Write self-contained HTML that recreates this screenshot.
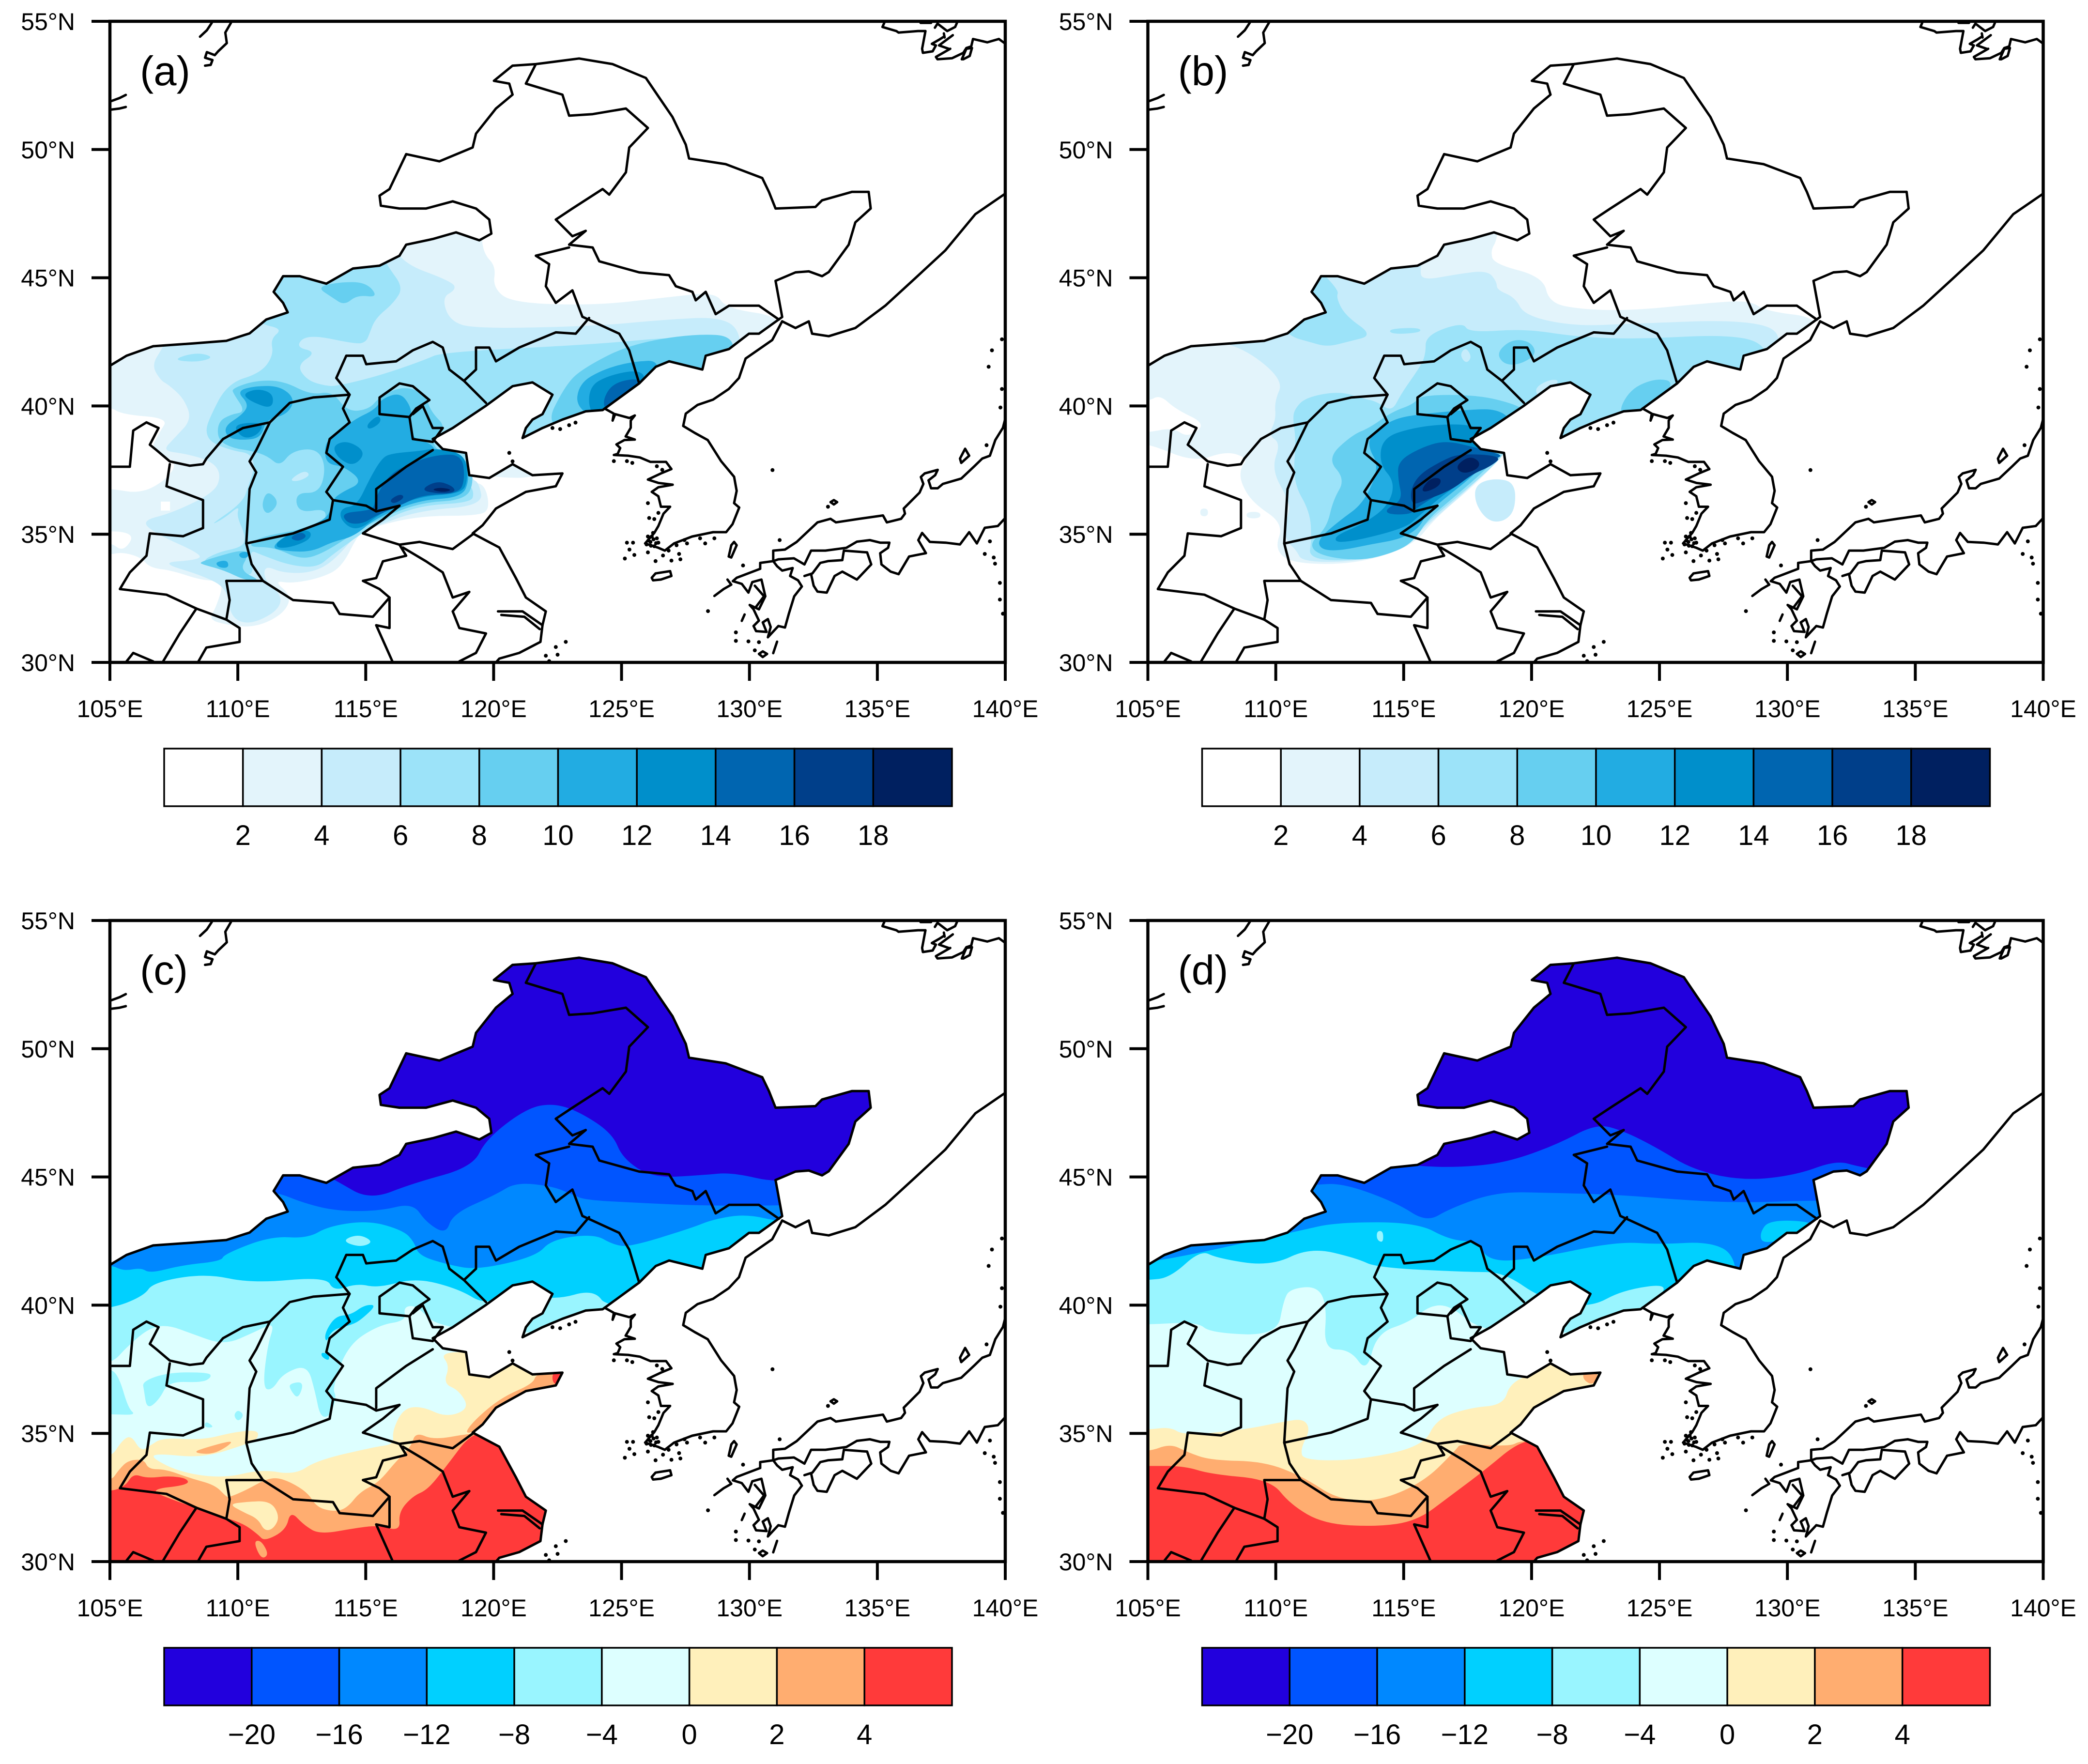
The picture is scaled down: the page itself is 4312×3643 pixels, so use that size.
<!DOCTYPE html>
<html lang="en">
<head>
<meta charset="utf-8">
<title>Four-panel contour maps of North China</title>
<style>
html,body{margin:0;padding:0;background:#fff;}
svg{display:block;font-family:"Liberation Sans",sans-serif;}
</style>
</head>
<body>
<svg id="figure" xmlns="http://www.w3.org/2000/svg" width="4312" height="3643" viewBox="0 0 4312 3643">
<rect x="0" y="0" width="4312" height="3643" fill="#ffffff"/>
</svg>
<script>
/* ---------- axis and legend data ---------- */
const lonTicks = [105,110,115,120,125,130,135,140];
const latTicks = [30,35,40,45,50,55];
const precipLevels = [2,4,6,8,10,12,14,16,18];
const precipColors = ['#ffffff','#e3f4fb','#c6ecfb','#9ce3f9','#66cff0','#22ace2','#008fcb','#0065b0','#003f8a','#002060'];
const tempLevels = [-20,-16,-12,-8,-4,0,2,4];
const tempColors = ['#2200dd','#0055ff','#0088ff','#00d0ff','#99f5ff','#ddffff','#fff0bb','#ffad70','#ff3a3a'];
const panelNames = ['a','b','c','d'];

/* ---------- geography, [lon, lat] ---------- */
const domainOutline = [[105,30],[105,41.57],[105.65,41.96],[106.69,42.33],[108.25,42.44],[109.55,42.54],[110.46,42.83],[111.11,43.37],[111.95,43.65],[111.77,44.02],[111.4,44.45],[111.77,45.06],[112.42,45.06],[113.46,44.77],[114.5,45.36],[115.54,45.47],[116.32,45.86],[116.58,46.29],[117.62,46.51],[118.53,46.77],[119.44,46.46],[119.91,46.72],[119.83,47.27],[119.31,47.7],[118.4,47.98],[117.36,47.7],[116.32,47.7],[115.59,47.81],[115.54,48.2],[115.93,48.46],[116.58,49.82],[117.88,49.54],[119.18,50.08],[119.31,50.62],[120.09,51.6],[120.74,52.14],[120.61,52.57],[120.01,52.68],[120.74,53.27],[121.65,53.33],[123.34,53.55],[124.65,53.33],[125.95,52.79],[126.47,52.03],[126.99,51.27],[127.51,50.19],[127.64,49.65],[129.07,49.43],[130.5,48.89],[130.76,48.35],[131.02,47.7],[132.58,47.76],[132.84,48.02],[134.01,48.35],[134.66,48.35],[134.74,47.7],[134.14,47.16],[133.88,46.29],[133.1,45.22],[132.84,45.06],[132.32,45.25],[131.8,45.21],[131.02,44.88],[131.28,43.47],[130.37,42.82],[129.98,42.82],[129.2,42.22],[128.29,41.96],[128.16,41.42],[126.86,41.74],[126.34,41.53],[125.69,40.88],[124.26,39.84],[123.6,39.79],[122.69,39.47],[121.91,39.14],[121.13,38.75],[121.26,39.14],[121.52,39.47],[121.91,39.68],[122.3,40.44],[121.52,40.92],[120.74,40.77],[119.7,40.01],[118.4,39.14],[117.62,38.71],[118.01,38.32],[118.92,38.17],[119.05,37.3],[119.83,37.19],[120.74,37.73],[121.52,37.3],[122.69,37.37],[122.43,36.87],[121.26,36.65],[120.48,36.22],[120.09,36],[119.57,35.35],[119.18,35.03],[120.22,34.48],[120.87,33.29],[121.26,32.53],[122.04,31.99],[121.91,31.45],[121.83,30.8],[121,30.37],[120.22,30.15],[120.09,30]];
const russiaCoast = [[131.28,43.3],[131.8,43.04],[132.32,43.3],[132.45,42.82],[133.1,42.72],[134.14,43.04],[135.31,43.91],[136.49,44.99],[137.66,46.07],[138.83,47.48],[140,48.28]];
const koreaCoast = [[124.34,39.9],[124.7,39.7],[124.65,39.43],[124.75,39.68],[125.31,39.53],[125.52,39.63],[125.36,39.43],[125.36,39.15],[125.16,38.81],[125.52,38.69],[125.11,38.67],[124.8,38.5],[124.95,38.36],[124.85,38.13],[124.7,38.09],[125.26,38.06],[125.72,37.99],[126.13,37.82],[126.74,37.82],[126.95,37.54],[126.54,37.37],[126.03,37.13],[126.44,37],[127,36.93],[126.44,36.83],[126.18,36.65],[126.44,36.48],[126.54,36.07],[126.9,36.07],[126.64,35.8],[126.44,35.32],[126.28,35.05],[125.92,34.64],[126.44,34.47],[126.69,34.36],[127.05,34.64],[127.76,34.91],[128.58,35.08],[129.09,35.08],[129.34,35.39],[129.6,36.04],[129.4,36.21],[129.5,36.69],[129.4,37.24],[128.89,37.85],[128.37,38.67],[127.86,38.95],[127.41,39.22],[127.51,39.7],[127.97,40.04],[128.58,40.25],[129.19,40.66],[129.59,41.09],[129.85,41.85],[130.89,42.57],[131.28,43.3]];
const honshuNorth = [[130.93,33.95],[130.93,34.36],[131.39,34.4],[131.85,34.7],[132.36,35.18],[132.66,35.46],[133.17,35.6],[133.38,35.46],[134.3,35.6],[135.22,35.73],[135.37,35.46],[135.93,35.6],[136.08,35.8],[136.03,36],[136.65,36.62],[136.8,36.96],[136.7,37.23],[136.85,37.37],[137.36,37.51],[137.26,37.3],[137,37.1],[137.1,36.79],[137.36,36.79],[137.56,36.96],[138.28,37.17],[138.79,37.65],[139.1,37.95],[139.4,38.06],[139.61,38.67],[139.91,39.15],[140,39.5]];
const honshuSouth = [[130.93,33.95],[131.13,34.02],[131.74,34.06],[132.15,33.82],[132.41,34.36],[132.97,34.36],[133.79,34.47],[134.2,34.71],[134.71,34.77],[135.11,34.67],[135.47,34.67],[135.42,34.47],[135.11,34.26],[135.16,33.82],[135.52,33.54],[135.83,33.44],[136.24,34.13],[136.9,34.26],[136.6,34.77],[136.75,35.05],[137.05,34.7],[137.67,34.67],[138.23,34.6],[138.59,35.08],[138.89,34.64],[139.2,35.25],[139.71,35.32],[140,35.63]];
const shikoku = [[132.15,33.37],[132.46,33.47],[132.77,33.88],[133.07,33.95],[133.63,33.99],[133.69,34.36],[134.6,34.29],[134.76,33.82],[134.2,33.23],[133.63,33.54],[133.33,33.37],[133.02,32.72],[132.66,32.76],[132.51,32.99],[132.41,33.44]];
const kyushu = [[130.93,33.95],[130.42,33.88],[130.42,33.65],[129.5,33.3],[129.35,33.17],[129.7,33.06],[129.96,32.72],[130.11,33.13],[130.47,33.23],[130.62,32.58],[130.37,32.07],[130.01,32.24],[130.16,32.07],[130.37,31.63],[130.16,31.42],[130.26,31.22],[130.67,31.19],[130.52,31.56],[130.72,31.69],[130.83,31.38],[130.72,30.98],[131.13,31.42],[131.39,31.36],[131.54,31.9],[131.75,32.58],[132.05,32.96],[131.9,33.2],[131.59,33.37],[131.69,33.68],[131.28,33.58],[131.08,33.75],[130.93,33.95]];
const ariakeBay = [[130.21,32.99],[130.57,32.58],[130.26,32.17]];
const jeju = [[126.18,33.3],[126.33,33.47],[126.9,33.56],[126.95,33.37],[126.54,33.23],[126.23,33.2],[126.18,33.3]];
const tsushima = [[129.4,34.7],[129.5,34.57],[129.29,34.09],[129.19,34.13],[129.29,34.57],[129.4,34.7]];
const sado = [[138.43,38.33],[138.59,38.06],[138.28,37.78],[138.23,37.95],[138.43,38.33]];
const okiIsland = [[133.17,36.25],[133.3,36.33],[133.43,36.25],[133.3,36.16],[133.17,36.25]];
const yakushima = [[130.37,30.33],[130.52,30.43],[130.69,30.33],[130.52,30.21],[130.37,30.33]];
const tanegashima = [[131.08,30.81],[130.93,30.36]];
const gotoIslands = [[128.63,32.59],[128.99,32.86],[129.29,33.03],[129.14,33.23]];
const koshikiIsland = [[129.81,31.87],[129.7,31.62]];
const russiaNorth = [[135.27,54.94],[135.2,54.78],[135.74,54.62],[135.83,54.56],[136.59,54.62],[136.88,54.62],[136.75,53.93],[136.78,53.77],[137.16,53.83],[137.29,54.06],[137.13,54.12],[137.41,54.28],[137.6,54.4]];
const russiaNorthEast = [[137.85,53.93],[137.29,53.61],[137.35,53.52],[137.92,53.56],[138.36,53.77],[138.48,53.96],[138.67,54.02],[138.74,54.31],[139.3,54.18],[139.75,54.31],[139.97,54.15],[140,54.12]];
const shantarIsland = [[138.36,53.52],[138.61,53.65],[138.7,53.96],[138.48,53.93],[138.3,53.52],[138.36,53.52]];
const shantarInlet = [[137.25,54.75],[137.35,54.91],[137.73,54.62],[138.04,54.78],[138.11,54.94]];
const shantarBar = [[137.95,54.46],[137.41,54.06],[137.79,53.93]];
const shantarBlob = [[137.6,54.53],[137.63,54.37]];
const northEdgeBlob = [[136.69,54.94],[137.1,54.94]];
const baikalWest = [[108.98,54.94],[108.79,54.65],[108.52,54.4]];
const baikalEast = [[109.73,54.94],[109.51,54.56],[109.57,54.15],[109.23,53.83],[109.1,53.68],[108.79,53.8],[108.72,53.58],[109.01,53.49],[108.94,53.3],[108.72,53.27]];
const westEdgeUpper = [[105,51.87],[105.38,52.01],[105.62,52.13]];
const westEdgeLower = [[105,51.55],[105.38,51.6],[105.62,51.66]];
const heilongjiangBorder = [[121.65,53.33],[121.26,52.57],[122.69,52.14],[122.95,51.32],[123.87,51.38],[125.17,51.6],[126.03,50.84],[125.3,50.08],[125.17,49.11],[124.52,48.24],[124.26,48.46],[123.08,47.7],[122.43,47.27],[123.08,46.62],[123.6,46.83],[122.95,46.29],[123.87,46.18],[124.13,45.64],[125.69,45.21],[126.86,45.1],[127.12,44.67],[127.77,44.45],[127.9,44.12],[128.29,44.45],[128.68,43.58],[129.2,43.91],[130.37,43.91],[131.15,43.37]];
const jilinWestBorder = [[122.95,46.18],[121.65,45.86],[122.17,45.53],[122.04,44.67],[122.43,44.02],[123.08,44.51],[123.47,43.48],[124.91,42.82],[125.3,42.17],[125.69,40.88]];
const liaoningBorder = [[123.73,43.43],[123.21,42.82],[122.43,42.87],[121,42.28],[120.09,41.74],[119.83,42.28],[119.31,42.28],[119.31,41.42],[118.84,40.98],[119.7,40.12]];
const hebeiBorder = [[118.84,40.98],[118.27,41.42],[118.01,42.28],[117.62,42.5],[116.84,42.17],[116.19,41.74],[115.02,41.63],[114.89,41.96],[114.24,41.96],[113.85,41.09],[114.37,40.44],[114.11,39.9],[114.37,39.36],[113.59,38.71],[113.46,38.17],[114.11,37.63],[113.46,36.65],[113.72,36.33],[115.02,36.11],[115.41,35.89],[116.32,36.11]];
const henanNorthBorder = [[113.72,36.33],[113.59,35.57],[112.16,35.03],[110.33,34.64]];
const shanxiNorthBorder = [[114.37,40.44],[112.94,40.33],[112.03,40.12],[111.25,39.36],[110.2,39.14],[109.42,38.71],[108.77,37.95],[108.64,37.73],[108.12,37.67],[107.34,37.84],[106.82,38.28],[106.56,38.49],[106.9,39.14],[106.43,39.36],[105.91,39.04],[105.78,37.63],[105,37.63]];
const ningxiaSouthBorder = [[107.34,37.73],[107.21,36.87],[108.64,36.33],[108.64,35.24],[107.86,34.92],[106.56,35.03],[106.43,34.16],[105.78,33.51],[105.39,32.86],[107.21,32.64],[108.38,32.1],[109.55,31.67]];
const yellowRiverBorder = [[111.25,39.36],[110.72,38.28],[110.46,37.84],[110.72,37.41],[110.46,36.76],[110.33,34.64],[110.54,33.83],[110.98,33.18],[112.16,32.43],[113.72,32.32],[113.98,31.89],[115.28,31.78],[115.93,32.53],[115.93,31.34],[115.41,31.45],[116.06,30]];
const hubeiBorder = [[110.98,33.18],[109.55,33.18],[109.68,32.43],[109.55,31.67],[110.07,31.34],[110.07,30.8],[108.77,30.58],[108.46,30.04]];
const sichuanBorder = [[108.38,32.1],[107.73,31.13],[107.08,30.04]];
const southEdgeBorder = [[105.65,30.04],[105.91,30.37],[106.69,30.04]];
const henanEastBorder = [[116.32,36.11],[115.67,35.57],[114.89,35.03],[116.32,34.59],[116.58,34.16],[115.67,33.94],[115.41,33.29],[114.89,33.18],[115.54,32.86],[115.93,32.53]];
const shandongSouthBorder = [[116.32,34.59],[117.1,34.7],[118.4,34.42],[119.23,35.03]];
const anhuiBorder = [[116.45,34.48],[117.36,33.94],[118.01,33.51],[118.4,32.53],[119.05,32.75],[118.4,31.99],[118.66,31.34],[119.7,31.13],[119.31,30.37],[118.66,30.04]];
const yangtzeNorth = [[120.17,31.99],[121.13,31.99],[121.91,31.45]];
const yangtzeSouth = [[120.3,31.85],[121.2,31.78],[121.8,31.3]];
const beijingBorder = [[115.54,39.68],[115.54,40.33],[116.32,40.88],[116.84,40.77],[117.49,40.23],[116.97,39.9],[116.71,39.57],[115.54,39.68]];
const tianjinBorder = [[116.84,39.68],[117.23,40],[117.62,39.14],[118.01,39.14],[117.62,38.6],[116.84,38.71],[116.71,39.57]];
const hebeiShandongBorder = [[117.62,38.28],[116.58,37.63],[115.41,36.76],[115.41,35.99]];
const mapLines = [domainOutline,russiaCoast,koreaCoast,honshuNorth,honshuSouth,shikoku,kyushu,ariakeBay,jeju,tsushima,sado,okiIsland,yakushima,tanegashima,gotoIslands,koshikiIsland,russiaNorth,russiaNorthEast,shantarIsland,shantarInlet,shantarBar,shantarBlob,northEdgeBlob,baikalWest,baikalEast,westEdgeUpper,westEdgeLower,heilongjiangBorder,jilinWestBorder,liaoningBorder,hebeiBorder,henanNorthBorder,shanxiNorthBorder,ningxiaSouthBorder,yellowRiverBorder,hubeiBorder,sichuanBorder,southEdgeBorder,henanEastBorder,shandongSouthBorder,anhuiBorder,yangtzeNorth,yangtzeSouth,beijingBorder,tianjinBorder,hebeiShandongBorder];
const smallIslands = [[125.45,34.67],[125.21,34.67],[125.31,34.4],[125.5,34.19],[125.13,34.05],[126.03,34.29],[126.33,33.95],[126.62,34.17],[126.95,33.97],[127.3,34.02],[127.25,34.23],[128.27,34.64],[126.03,34.91],[126.23,35.05],[126.38,34.84],[126.13,34.7],[126.44,34.67],[125.98,34.6],[126.28,34.53],[126.18,34.91],[126.05,34.75],[126.25,34.8],[126.35,34.65],[126.15,34.55],[126.08,35.63],[126.28,35.59],[126.03,36.21],[126.44,35.83],[125.21,37.85],[124.7,37.85],[125.42,37.78],[126.38,37.65],[126.59,37.51],[127.15,34.57],[127.56,34.64],[128.07,34.84],[128.63,34.84],[126.84,34.36],[127.46,34.77],[122.3,39.14],[122.95,39.25],[122.6,39.1],[123.2,39.35],[120.74,37.84],[120.61,38.17],[122.04,30.26],[122.43,30.6],[122.82,30.8],[122.17,30.05],[122.5,30.3],[130.9,37.5],[133.07,36.07],[131.18,34.77],[129.75,33.78],[128.38,32],[129.47,31.17],[129.47,30.84],[129.96,30.82],[130.37,30.79],[130.21,30.47],[139.27,38.47],[139.4,34.72],[139.2,34.23],[139.55,34.09],[139.6,33.85],[139.79,33.1],[139.79,32.45],[139.91,31.9],[139.81,39.94],[139.48,42.17],[139.87,42.6],[139.87,40.66],[139.35,41.53]];

/* ---------- panel (a) filled contours: [lower level, ring of lon/lat] ---------- */
const panelAContours = [
[2,[[104,34.2],[104,42],[107,43.5],[111,44.5],[112,46],[116,46.8],[118,47.2],[119.5,46.9],[119.6,45.95],[120.09,45.44],[119.97,44.63],[120.69,44.02],[123.93,43.92],[126.73,44.23],[128.68,44.45],[129.07,43.8],[131.4,43.47],[131,42],[128,40.5],[125,39],[122,38.5],[119.5,38.5],[118.5,37.8],[119.12,37.03],[119.66,36.93],[119.85,36.02],[119.48,35.72],[117.07,35.72],[115.02,35.21],[114.66,34.91],[114.05,33.69],[113.21,33.29],[112.12,33.08],[111.4,33.19],[112.12,32.58],[111.76,31.87],[110.67,31.36],[109.59,31.46],[108.86,31.67],[109.16,32.17],[109.47,33.19],[108.62,33.19],[107.41,33.59],[106.57,33.69],[106.21,34.1],[105.48,34.3],[105,34.2]]],
[2,[[119.6,38],[120.69,37.74],[122,37.55],[121.5,37.2],[120.4,37.2],[119.6,37.3]]],
[0,[[104,40],[105,39.97],[105.48,39.67],[107.29,39.52],[106.93,38.96],[106.57,38.25],[107.66,37.85],[107.23,37.14],[106.21,36.58],[105,36.78],[104,36.8]]],
[0,[[106.99,36.27],[106.99,36.27],[107.35,36.27],[107.35,36.27],[107.35,35.92],[107.35,35.92],[106.99,35.92],[106.99,35.92]]],
[0,[[104,35.11],[106.03,35.11],[105.54,34.3],[105,34.7],[104,34.7]]],
[4,[[108,44],[112,46],[116,47],[116.22,45.65],[118.4,44.84],[118.52,44.53],[117.98,44.23],[118.28,43.32],[119.24,43.01],[123.93,43.11],[126.73,43.37],[128.94,43.48],[129.72,42.82],[129.5,41.2],[125.5,39.5],[122,38.5],[119,38.5],[119.12,37.14],[119.42,37.03],[119.6,36.12],[117.07,35.92],[115.38,35.31],[114.66,35.01],[113.69,33.9],[112.85,33.49],[111.76,33.49],[111.04,33.79],[111.04,33.19],[111.76,32.58],[111.52,31.97],[110.43,31.46],[109.71,31.77],[109.59,32.88],[108.62,33.39],[106.93,33.89],[108.38,33.99],[108.62,34.2],[106.81,35.01],[106.21,35.52],[107.41,35.82],[109.1,36.63],[109.35,37.34],[108.98,37.85],[107.9,38.15],[107.05,38.25],[107.53,38.76],[108.2,39.47],[107.9,40.28],[107.29,40.83],[106.99,40.99],[106.63,41.59],[107.05,42.25]]],
[6,[[110.5,44],[111,46],[115,47],[115.86,45.44],[116.47,44.63],[116.1,44.02],[115.38,43.42],[115.14,42.81],[115.02,42.51],[114.66,42.4],[112.72,42.81],[112.24,42.3],[113.09,42.1],[112.3,41.59],[112.72,40.99],[113.45,40.78],[113.9,40.78],[115.6,41.2],[117.31,41.8],[118,42.1],[123.93,42.4],[127.38,42.72],[129.2,42.5],[129,41],[125.5,39.3],[122,38.5],[119,38.5],[119,37.03],[119.24,36.63],[119.12,36.23],[117.07,36.12],[115.38,35.41],[113.69,34.2],[113.09,33.69],[112,33.79],[110.91,34.2],[110.43,34.4],[110.67,33.29],[109.59,33.59],[108.5,33.9],[109.22,34.3],[110.19,34.5],[110.31,34.91],[109.95,35.72],[110.07,36.12],[109.47,35.62],[108.86,35.31],[110.19,36.23],[110.43,36.93],[110.67,37.64],[110.49,38.15],[109.83,38.25],[108.98,38.55],[108.74,38.96],[108.86,39.47],[109.59,40.88],[110.91,41.29],[111.4,42],[111.28,42.61],[111.76,43.01],[110.79,43.21]]],
[6,[[107.41,41.8],[108.38,42.1],[109.1,41.9],[108.38,41.7]]],
[4,[[112,37.1],[112.6,37.5],[112.85,37.3],[112.36,37.05]]],
[8,[[113.09,44.63],[113.93,44.83],[115.02,44.83],[115.5,44.23],[114.66,44.33],[114.17,43.92],[113.69,44.23]]],
[8,[[121.91,39],[122.83,40.88],[123.6,41.53],[125.3,42.39],[127.77,42.82],[129.59,42.72],[129,41],[125,39]]],
[8,[[109.77,40.68],[110.67,40.99],[111.76,40.99],[112.85,40.43],[113.69,40.58],[114.29,39.77],[115.14,39.87],[115.56,40.38],[116.47,40.78],[117.31,40.48],[117.55,39.77],[118.16,39.16],[117.55,38.66],[117.91,38.15],[119,37.95],[119.24,37.03],[118.88,36.33],[117.07,36.23],[115.38,35.52],[114.66,35.11],[113.33,34.25],[112.48,34],[111.4,34.5],[110.37,34.5],[110.79,34.86],[112,35.11],[113.33,35.31],[113.51,36.02],[112.36,35.82],[112.24,36.62],[113.2,36.6],[113.45,37.64],[113.09,38.35],[112.12,38.25],[111.64,37.64],[111.16,38.05],[110.55,38.25],[109.83,38.35],[109.22,38.66],[109.22,39.37],[109.71,39.67],[110.31,39.77],[109.83,40.48]]],
[8,[[111.16,36.73],[111.64,36.23],[111.16,35.72],[110.91,36.12]]],
[8,[[108.5,33.9],[109.1,34.1],[110.19,34.4],[110.43,34.2],[110.07,33.59],[110.91,33.19],[110.31,33.19],[109.47,33.59],[108.62,33.82]]],
[10,[[123.21,39.9],[123.34,40.88],[124.26,41.42],[125.43,41.74],[126.6,41.78],[126,40.3],[124.5,39.3]]],
[12,[[123.73,39.7],[123.73,40.77],[124.52,41.2],[125.69,41.42],[126,41],[124.5,39.4]]],
[14,[[124.26,40.23],[124.65,40.88],[125.56,41.09],[125.74,40.88],[124.4,39.75]]],
[10,[[109.95,40.58],[110.67,40.78],[111.64,40.78],[112.24,40.28],[111.94,39.67],[111.1,39.47],[110.91,38.76],[110.19,38.66],[109.59,38.76],[109.47,39.21],[110.19,39.67],[110.43,40.07]]],
[12,[[110.19,40.48],[110.79,40.68],[111.4,40.48],[111.34,39.87],[110.49,40.18]]],
[12,[[109.77,39.3],[111.04,39.37],[110.79,38.86],[110.19,38.71]]],
[10,[[113.63,38.76],[114.54,39.47],[115.38,39.87],[115.62,40.28],[116.35,40.53],[116.77,39.97],[116.77,39.47],[116.77,38.76],[117.55,38.55],[117.79,38.15],[118.88,38.05],[119.06,37.14],[118.76,36.43],[117.07,36.33],[115.38,35.62],[114.54,34.91],[113.69,34.7],[112.85,34.3],[111.76,34.35],[111.28,34.5],[112.12,35.11],[112.97,35.36],[113.57,35.72],[113.69,36.33],[114.05,36.63],[114.9,37.03],[114.17,37.64],[113.45,37.74],[113.39,38.45]]],
[12,[[113.69,38.45],[114.29,38.66],[115.02,38.2],[114.54,37.64],[113.93,37.95]]],
[12,[[115.02,39.26],[115.5,39.67],[115.62,39.37],[115.14,39.06]]],
[12,[[115.62,37.95],[115.98,38.15],[117.19,38.25],[117.67,38.35],[118.88,38.15],[119,37.14],[118.76,36.58],[117.07,36.48],[115.5,35.77],[114.9,35.26],[114.41,35.21],[113.99,35.62],[114.05,36.02],[114.66,36.12],[115.14,37.14]]],
[12,[[111.52,34.71],[112.24,35.11],[112.85,35.16],[112.85,34.8],[112.12,34.5],[111.52,34.45]]],
[14,[[115.38,36.43],[115.92,37.34],[116.83,37.8],[117.79,38.1],[118.76,38.1],[118.88,37.14],[118.64,36.58],[117.19,36.53],[116.35,36.12],[115.38,35.72],[114.9,35.41],[114.29,35.41],[114.05,35.82],[115.02,35.92],[115.32,36.02]]],
[14,[[112,34.86],[112.48,35.11],[112.72,34.91],[112.36,34.71]]],
[16,[[117.13,36.73],[117.79,37.09],[118.4,36.88],[118.52,36.63],[117.79,36.58]]],
[16,[[115.92,36.33],[116.35,36.58],[116.53,36.43],[116.1,36.17]]],
[18,[[117.55,36.73],[117.91,36.83],[118.4,36.73],[118.04,36.63]]],
[10,[[109.1,33.9],[109.59,34],[109.65,33.69],[109.28,33.69]]],
[10,[[110.01,34.25],[110.37,34.35],[110.43,34.1],[110.13,34.05]]]
];

/* ---------- panel (b) filled contours ---------- */
const panelBContours = [
[2,[[104,38.55],[104,42],[110,45.5],[116,47.5],[118.7,47.2],[118.64,46.46],[118.4,46.05],[118.52,45.54],[120.45,45.04],[120.69,44.02],[121.9,43.77],[123.93,43.72],[126.96,44.02],[128.52,44.12],[129.17,43.69],[131.4,43.43],[131,41.8],[126,39],[122,38.5],[119,38.3],[118.76,37.95],[117.79,36.93],[116.22,35.62],[115.38,34.55],[113.21,33.84],[110.67,33.84],[109.95,34.4],[110.31,35.41],[109.1,36.22],[108.62,37.03],[108.62,37.59],[108.92,37.95],[108.08,38.25],[106.81,37.8],[105,38.55]]],
[0,[[104,40.18],[105,40.18],[105.48,40.43],[106.09,39.87],[107.29,39.3],[106.57,38.76],[105.97,39.16],[105,38.96],[104,38.96]]],
[2,[[107.05,36],[107.35,36],[107.35,35.7],[107.05,35.7]]],
[2,[[108.86,35.87],[109.4,35.87],[109.4,35.62],[108.86,35.62]]],
[4,[[106,42.8],[112,46.5],[116,47.2],[115.62,45.34],[115.74,44.89],[117.07,45.14],[118.28,45.29],[118.64,44.84],[118.64,44.53],[119.36,44.23],[119.73,43.52],[121.66,43.11],[123.93,43.21],[128.26,43.37],[129.95,42.87],[129,41.2],[125.5,39.4],[122,38.5],[119,38.4],[118.52,37.85],[117.79,36.98],[115.86,35.31],[115.02,34.5],[113.45,33.95],[111.04,33.9],[110.79,34.4],[110.43,34.7],[110.31,35.31],[110.55,35.92],[110.49,36.33],[109.83,37.54],[110.19,38.55],[109.71,38.86],[110.01,39.47],[109.95,40.18],[110.31,40.99],[108.86,42.2],[107.4,42.6]]],
[4,[[117.79,36.93],[118.52,37.19],[119.36,37.03],[119.36,35.92],[118.88,35.47],[118.28,35.52],[117.79,36.2]]],
[6,[[115.86,42.76],[117.31,43.27],[117.55,42.86],[119.73,43.01],[121.66,42.71],[123.93,42.6],[128,42.8],[129.3,42.28],[129,41],[125.5,39.4],[122,38.5],[119,38.4],[118.88,38.05],[118.16,37.34],[117.07,36.43],[115.74,35.31],[115.14,34.55],[113.33,33.98],[111.28,34],[111.4,34.8],[111.34,35.87],[110.67,37.03],[110.79,38.66],[110.67,39.47],[110.73,39.87],[111.16,40.33],[112.48,40.58],[113.45,40.28],[113.93,40.18],[114.54,39.77],[114.9,40.48],[115.62,41.49],[115.86,42]]],
[6,[[110,43.4],[110.4,45],[111,46],[112.48,44.53],[112.36,44.23],[112.72,43.52],[113.81,42.76],[112.85,42.51],[112,42.3],[111.28,42.51],[110.55,42.71]]],
[6,[[114.41,43.01],[115.62,43.06],[115.68,42.86],[114.53,42.79]]],
[4,[[117.19,42],[117.43,42.3],[117.67,41.9],[117.43,41.64]]],
[4,[[120.09,40.68],[120.69,41.04],[121.17,40.99],[120.33,40.28]]],
[8,[[118.64,42.1],[119.24,42.61],[119.97,42.51],[120.21,42],[119.48,41.59],[118.88,41.64]]],
[8,[[115.68,40.43],[117.91,40.43],[119.36,40.07],[119.79,39.77],[119,38.6],[118.64,37.95],[117.79,37.14],[116.83,36.33],[115.98,35.62],[115.38,34.71],[114.66,34.3],[113.33,33.95],[111.76,34.15],[111.28,34.6],[112,35.26],[112.24,36.33],[112.72,37.14],[112,37.95],[112.97,38.86],[113.69,39.16],[114.54,39.77],[115.38,40.07]]],
[8,[[123.32,39.6],[123.84,40.66],[124.88,41.09],[125.66,40.92],[124.49,39.6]]],
[10,[[115.5,39.67],[117.67,39.87],[118.64,39.87],[119.24,39.47],[118.5,38.6],[118.4,38],[117.67,37.24],[116.71,36.48],[115.86,35.77],[115.62,35.26],[114.9,34.81],[113.69,34.6],[112.48,34.35],[111.76,34.4],[111.64,34.8],[112.48,35.52],[113.45,36.22],[114.05,37.64],[113.63,38.35],[113.69,38.86],[114.54,39.47]]],
[12,[[114.17,38.76],[115.38,39.16],[116.83,39.31],[117.91,39.21],[117.98,38.76],[118.64,38.05],[117.67,37.29],[116.47,36.48],[115.62,35.72],[115.02,35.21],[112.48,34.6],[112.24,34.91],[113.45,35.41],[114.41,36.12],[114.66,37.03],[114.05,37.74]]],
[14,[[114.78,37.84],[115.62,38.35],[116.59,38.66],[117.73,38.4],[118.88,38.1],[118.64,37.95],[117.6,37.4],[116.47,36.63],[115.5,36.02],[115.26,35.77],[114.41,35.77],[114.29,35.97],[114.96,36.33],[114.78,37.14]]],
[16,[[115.26,36.73],[115.62,37.34],[116.47,37.85],[117.19,38.15],[118.88,38.05],[118.4,37.64],[117.67,37.34],[116.89,36.73],[115.86,36.33],[115.32,36.12]]],
[18,[[115.68,36.73],[116.04,37.19],[116.47,37.19],[116.41,36.88],[115.86,36.63]]],
[18,[[117.01,37.64],[117.55,38.05],[117.98,37.85],[117.91,37.54],[117.31,37.34]]]
];

/* ---------- panel (c): fronts run west to east and fill everything south ---------- */
const panelCFronts = [
[-20,[[104,47],[110,47],[113.85,44.85],[115.15,44.1],[116.84,44.75],[119.18,45.39],[119.7,46.47],[121.26,47.66],[122.3,47.88],[123.34,47.55],[124.65,46.69],[125.04,45.72],[126.21,44.96],[128.16,45.07],[129.33,45.18],[131.15,44.75],[132.97,45.18],[135,45]]],
[-16,[[104,43],[110,44.5],[111.5,44.42],[112.55,43.99],[113.85,43.67],[115.54,43.67],[116.84,43.99],[117.36,43.23],[118.14,42.76],[118.4,43.56],[120.09,44.31],[120.87,44.79],[122.3,44.64],[123.08,44.31],[123.6,44.1],[125.69,43.99],[128.03,43.88],[131.28,43.88],[135,44]]],
[-12,[[104,41.59],[105,41.59],[105.54,41.33],[106.21,41.46],[106.57,41.24],[107.78,41.55],[109.35,41.72],[109.47,41.99],[111.28,42.69],[112.72,42.6],[113.57,43.09],[115.14,43.3],[116.47,42.91],[116.89,42.47],[117.07,41.94],[118.16,41.59],[119.36,41.37],[121.66,41.9],[122.26,42.56],[123.93,42.78],[124.65,42.37],[125.3,42.26],[127.77,43.02],[128.55,43.34],[129.85,43.56],[131.28,43.23],[135,43]]],
[-8,[[104,39.84],[105,39.84],[106.33,40.36],[106.69,40.89],[108.74,41.24],[110.55,40.85],[113.45,41.11],[113.75,40.54],[114.66,40.85],[115.5,40.67],[116.95,41.07],[118.64,40.63],[119.67,40.01],[120.69,40.54],[122.38,40.19],[123.93,40.63],[124.5,39.8],[135,39]]],
[-4,[[104,37.64],[105,37.64],[105.72,38.43],[106.57,39.13],[107.29,39.22],[108.14,38.91],[109.47,38.43],[110.67,38.96],[111.46,39.35],[111.16,38.43],[110.97,36.76],[111.34,36.68],[111.76,37.33],[112.72,37.69],[113.03,36.59],[113.21,35.67],[113.57,35.62],[113.87,36.41],[113.69,36.76],[114.29,38.43],[115.5,39.22],[116.59,39.4],[116.47,39.92],[116.95,40],[117.55,39.4],[118.04,39.22],[119,39],[135,38.5]]],
[0,[[104,33.98],[105,33.98],[105.48,34.74],[105.84,34.92],[106.21,34.3],[106.57,34.52],[107.05,34.83],[108.62,34.74],[109.83,35.05],[110.79,35.14],[110.79,34.79],[110.31,34.57],[108.62,34.04],[106.81,34.22],[106.63,34.04],[107.78,33.47],[109.47,33.25],[110.91,33.6],[112.24,33.38],[113.09,33.95],[115.38,34.48],[116.1,34.57],[116.04,35.1],[116.47,35.97],[117.19,36.06],[118.16,35.62],[119.06,35.97],[118.64,36.68],[118.04,36.94],[118.28,37.64],[117.91,38.12],[119,38.2],[123,38],[135,37]]],
[2,[[104,33.08],[105,33.08],[105.36,33.6],[105.72,33.95],[106.33,33.99],[106.51,33.6],[107.17,33.6],[108.14,33.25],[109.1,32.99],[109.53,32.55],[109.65,32.5],[110.37,32.81],[111.16,33.25],[111.76,33.25],[112.72,32.72],[113.09,32.11],[113.81,31.94],[114.29,32.11],[114.78,32.72],[115.5,33.08],[116.22,33.95],[116.77,34.48],[116.95,35.05],[117.67,34.74],[119.12,35.01],[120,35],[135,35]]],
[4,[[104,32.72],[105,32.72],[105.6,32.94],[105.91,33.43],[106.45,33.25],[107.29,33.34],[108.02,33.25],[108.08,32.99],[106.51,32.81],[107.41,32.42],[109.22,31.8],[110.19,31.5],[110.79,31.06],[111.04,30.79],[111.88,31.23],[112.06,31.98],[112.6,31.41],[113.21,31.06],[114.66,31.32],[115.5,31.41],[116.35,31.19],[116.29,31.93],[116.83,32.55],[117.43,32.81],[118.16,33.73],[119.12,35.01],[120,35],[135,35]]]
];
const panelCPatches = [
[-12,[[113.39,38.9],[113.81,39.57],[114.41,39.62],[114.96,40.01],[115.44,40.01],[114.78,39.4],[114.41,39.22],[113.69,39.05],[113.45,38.52]]],
[-12,[[113.27,38.17],[113.57,38.08],[113.57,37.82],[113.27,37.99]]],
[-8,[[114.05,42.51],[114.72,42.78],[115.32,42.47],[114.78,42.25]]],
[-8,[[104,37.55],[105,37.55],[105.36,37.2],[105.72,35.97],[106.03,35.71],[105,35.75],[104,35.75]]],
[-8,[[106.27,37.03],[107.29,37.38],[108.86,37.38],[108.98,37.2],[108.62,36.98],[107.29,37.03],[106.93,36.32],[106.45,35.93],[106.33,36.68]]],
[-8,[[110.01,35.93],[110.25,35.71],[110.01,35.45],[109.83,35.71]]],
[-8,[[112,36.94],[112.6,37.03],[112.36,36.32],[112.06,36.68]]],
[-8,[[108.74,35.49],[109.1,35.23],[108.68,35.23]]],
[0,[[109.65,32.24],[110.31,32.33],[111.28,32.37],[111.64,31.76],[111.4,31.28],[111.04,31.19],[110.79,31.67],[110.19,31.94]]],
[2,[[108.2,34.26],[108.86,34.48],[109.83,34.74],[109.59,34.48],[108.98,34.17]]],
[2,[[110.61,30.79],[110.91,30.83],[111.22,30.27],[110.91,30.09]]],
[2,[[121.66,37.33],[122.74,37.42],[122.62,36.85],[120.69,36.15],[120.09,35.8],[119.48,35.27],[119.12,35.01],[118.88,35.05],[119.36,35.62],[120.33,36.41],[121.54,36.94]]],
[4,[[122.3,37.4],[122.8,37.45],[122.65,36.85],[122.3,36.95]]]
];

/* ---------- panel (d) ---------- */
const panelDFronts = [
[-20,[[104,46],[110,46],[115.64,45.39],[117.59,45.39],[119.16,45.61],[120.98,46.26],[122.54,47.08],[123.58,46.8],[124.88,46.15],[126.31,45.28],[128.26,44.85],[130.34,45.07],[131.91,45.65],[132.82,45.39],[135,45]]],
[-16,[[104,43],[110,44.5],[111.48,44.7],[112.65,44.75],[114.73,43.99],[115.9,43.23],[116.81,43.77],[118.64,44.42],[120.72,44.38],[123.32,44.31],[125.92,44.1],[128.26,43.99],[131.25,44.1],[135,44]]],
[-12,[[104,41.6],[105,41.6],[110.96,42.91],[112.39,43.23],[115.51,43.23],[116.81,42.54],[117.85,42.48],[118.37,41.68],[120.2,41.83],[123.32,42.48],[125.01,42.37],[126.96,42.48],[128,41.94],[128,40],[135,40]]],
[-8,[[104,40.97],[105,40.97],[105.88,41.08],[107.06,42.15],[107.71,41.83],[109.79,41.51],[111.35,42.26],[113.17,41.83],[113.95,41.46],[117.59,41.29],[118.9,41.29],[120.46,40.21],[122.28,39.89],[123.58,40.6],[125.53,40.86],[124.36,39.78],[135,39]]],
[-4,[[104,39.24],[105,39.24],[106.93,39.35],[107.45,38.92],[110.05,38.81],[110.31,40.21],[110.57,40.64],[111.61,40.75],[112,40],[111.87,38.27],[112.91,38.27],[113.56,37.36],[113.95,38.91],[115.25,39.35],[116.03,39.99],[116.81,39.99],[117.85,39.13],[119,39],[135,38.5]]],
[0,[[104,35.14],[105,35.14],[105.88,35.25],[106.41,34.92],[108.75,35.14],[110.31,35.46],[111.09,35.57],[111.35,35.14],[110.96,34.38],[111.09,33.95],[113.17,33.95],[115.77,34.49],[116.29,35.57],[117.59,36],[118.9,36.11],[119.16,36.97],[120.2,37.4],[120.72,37.79],[122,38.5],[135,38]]],
[2,[[104,34.27],[105,34.27],[105.88,34.6],[106.54,34.27],[107.45,33.95],[109.53,33.91],[111.09,33.3],[112.39,32.44],[113.95,32.33],[115.77,33.09],[117.07,34.38],[117.2,34.6],[119.16,34.49],[119.55,34.71],[120.5,34.7],[135,34.7]]],
[4,[[104,33.73],[105,33.73],[106.41,33.73],[107.45,33.41],[109.79,33.2],[110.57,32.23],[111.87,31.47],[113.95,31.36],[115.51,31.58],[116.81,32.55],[118.11,33.52],[119.55,34.71],[120.5,34.7],[135,34.7]]]
];
const panelDPatches = [
[-12,[[128.91,42.8],[129.3,43.34],[131.25,43.23],[130.34,42.69],[129.04,42.37]]],
[-8,[[113.95,42.89],[114.2,42.89],[114.2,42.43],[113.95,42.54]]],
[2,[[122.02,37.41],[122.67,37.36],[122.41,36.87],[122.02,37.08]]]
];

/* ---------- layout ---------- */
const SVGNS = 'http://www.w3.org/2000/svg';
const root = document.getElementById('figure');
const frameLefts = [227,2370.5,227,2370.5];
const frameTops = [44,44,1901,1901];
const FRAME_W = 1849;
const FRAME_H = 1324;
const BAR_OFFSET_X = 112;
const BAR_W = 1627;
const BAR_OFFSET_Y = 1502;
const BAR_H = 119;

function svgEl(tag, attrs, parent) {
  const el = document.createElementNS(SVGNS, tag);
  for (const k in attrs) el.setAttribute(k, attrs[k]);
  parent.appendChild(el);
  return el;
}

function makeScales(left, top) {
  return {
    x: function (lon) { return left + (lon - 105) / 35 * FRAME_W; },
    y: function (lat) { return top + (55 - lat) / 25 * FRAME_H; }
  };
}

function fmt(n) { return n.toFixed(1); }

function polyPath(points, s) {
  return points.map(function (p, i) {
    return (i ? 'L' : 'M') + fmt(s.x(p[0])) + ' ' + fmt(s.y(p[1]));
  }).join('');
}

function smoothRing(ring, s) {
  const pts = ring.map(function (p) { return [s.x(p[0]), s.y(p[1])]; });
  const n = pts.length;
  let d = '';
  for (let i = 0; i < n; i++) {
    const a = pts[i], b = pts[(i + 1) % n];
    const mx = (a[0] + b[0]) / 2, my = (a[1] + b[1]) / 2;
    d += i === 0 ? 'M' + fmt((pts[n - 1][0] + a[0]) / 2) + ' ' + fmt((pts[n - 1][1] + a[1]) / 2) : '';
    d += 'Q' + fmt(a[0]) + ' ' + fmt(a[1]) + ' ' + fmt(mx) + ' ' + fmt(my);
  }
  return d + 'Z';
}

function smoothFront(line, s) {
  const pts = line.map(function (p) { return [s.x(p[0]), s.y(p[1])]; });
  let d = 'M' + fmt(pts[0][0]) + ' ' + fmt(pts[0][1]);
  for (let i = 1; i < pts.length - 1; i++) {
    const a = pts[i], b = pts[i + 1];
    d += 'Q' + fmt(a[0]) + ' ' + fmt(a[1]) + ' ' + fmt((a[0] + b[0]) / 2) + ' ' + fmt((a[1] + b[1]) / 2);
  }
  const last = line[line.length - 1];
  d += 'L' + fmt(s.x(last[0])) + ' ' + fmt(s.y(last[1]));
  d += 'L' + fmt(s.x(136)) + ' ' + fmt(s.y(last[1]));
  d += 'L' + fmt(s.x(136)) + ' ' + fmt(s.y(29));
  d += 'L' + fmt(s.x(104)) + ' ' + fmt(s.y(29));
  d += 'L' + fmt(s.x(104)) + ' ' + fmt(s.y(line[0][1])) + 'Z';
  return d;
}

function precipColor(level) {
  if (level === 0) return precipColors[0];
  return precipColors[precipLevels.indexOf(level) + 1];
}

function tempColor(level) {
  return tempColors[tempLevels.indexOf(level) + 1];
}

function drawPanel(index) {
  const name = panelNames[index];
  const left = frameLefts[index];
  const top = frameTops[index];
  const s = makeScales(left, top);
  const isPrecip = index < 2;

  const panel = svgEl('g', {}, root);
  
  

  const clipFrame = svgEl('clipPath', { id: 'frame-clip-' + name }, panel);
  svgEl('rect', { x: left, y: top, width: FRAME_W, height: FRAME_H }, clipFrame);
  const clipDomain = svgEl('clipPath', { id: 'domain-clip-' + name }, panel);
  svgEl('path', { d: polyPath(domainOutline, s) + 'Z' }, clipDomain);

  const fills = svgEl('g', { 'clip-path': 'url(#domain-clip-' + name + ')' }, panel);
  
  

  if (isPrecip) {
    const rings = index === 0 ? panelAContours : panelBContours;
    rings.forEach(function (entry) {
      const shape = svgEl('path', { d: smoothRing(entry[1], s), fill: precipColor(entry[0]) }, fills);
      
      
    });
  } else {
    const base = svgEl('rect', { x: left, y: top, width: FRAME_W, height: FRAME_H, fill: tempColors[0] }, fills);
    
    
    const fronts = index === 2 ? panelCFronts : panelDFronts;
    const patches = index === 2 ? panelCPatches : panelDPatches;
    fronts.forEach(function (entry) {
      const shape = svgEl('path', { d: smoothFront(entry[1], s), fill: tempColor(entry[0]) }, fills);
      
      
    });
    patches.forEach(function (entry) {
      const shape = svgEl('path', { d: smoothRing(entry[1], s), fill: tempColor(entry[0]) }, fills);
      
      
    });
  }

  const lines = svgEl('g', { 'clip-path': 'url(#frame-clip-' + name + ')', fill: 'none', stroke: '#000', 'stroke-width': 5, 'stroke-linejoin': 'round', 'stroke-linecap': 'round' }, panel);
  
  
  mapLines.forEach(function (line) {
    const border = svgEl('path', { d: polyPath(line, s) }, lines);
    
    
  });
  smallIslands.forEach(function (p) {
    const dot = svgEl('circle', { cx: fmt(s.x(p[0])), cy: fmt(s.y(p[1])), r: 4, fill: '#000', stroke: 'none' }, lines);
    
    
  });

  const frame = svgEl('rect', { x: left, y: top, width: FRAME_W, height: FRAME_H, fill: 'none', stroke: '#000', 'stroke-width': 6.5 }, panel);
  
  

  lonTicks.forEach(function (lon) {
    const x = s.x(lon), yb = top + FRAME_H;
    const tick = svgEl('line', { x1: x, x2: x, y1: yb, y2: yb + 38, stroke: '#000', 'stroke-width': 6 }, panel);
    
    
    const label = svgEl('text', { x: x, y: yb + 113, 'text-anchor': 'middle', 'font-size': 50, fill: '#000' }, panel);
    
    
    label.textContent = lon + '°E';
  });

  latTicks.forEach(function (lat) {
    const y = s.y(lat);
    const tick = svgEl('line', { x1: left - 38, x2: left, y1: y, y2: y, stroke: '#000', 'stroke-width': 6 }, panel);
    
    
    const label = svgEl('text', { x: left - 72, y: y + 18, 'text-anchor': 'end', 'font-size': 50, fill: '#000' }, panel);
    
    
    label.textContent = lat + '°N';
  });

  const title = svgEl('text', { x: left + 62, y: top + 132, 'font-size': 85, fill: '#000' }, panel);
  
  
  title.textContent = '(' + name + ')';

  drawColorbar(index, panel);
}

function drawColorbar(index, panel) {
  const colors = index < 2 ? precipColors : tempColors;
  const levels = index < 2 ? precipLevels : tempLevels;
  const left = frameLefts[index] + BAR_OFFSET_X;
  const top = frameTops[index] + BAR_OFFSET_Y;
  const boxW = BAR_W / colors.length;
  const bar = svgEl('g', {}, panel);
  
  
  colors.forEach(function (color, i) {
    const box = svgEl('rect', { x: left + i * boxW, y: top, width: boxW, height: BAR_H, fill: color, stroke: '#000', 'stroke-width': 3.5 }, bar);
    
    
  });
  levels.forEach(function (level, i) {
    const text = svgEl('text', { x: left + (i + 1) * boxW, y: top + BAR_H + 80, 'text-anchor': 'middle', 'font-size': 58, fill: '#000' }, bar);
    
    
    text.textContent = level < 0 ? '\u2212' + Math.abs(level) : String(level);
  });
}

[0, 1, 2, 3].forEach(drawPanel);
</script>
</body>
</html>
